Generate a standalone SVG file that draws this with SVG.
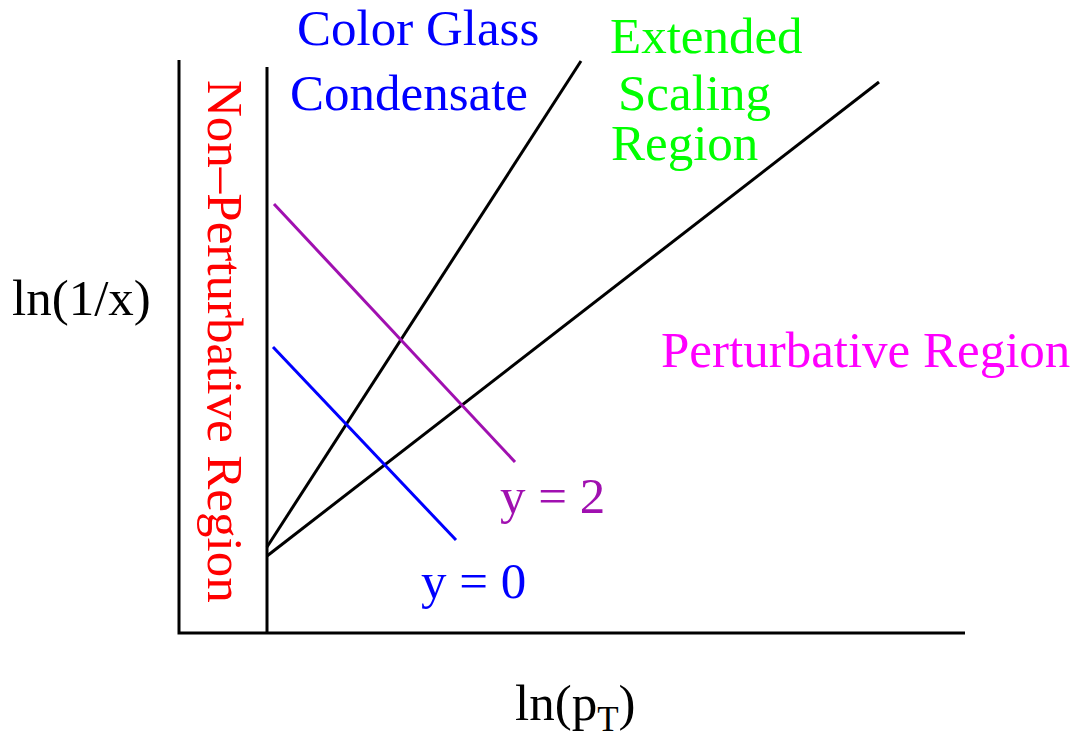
<svg xmlns="http://www.w3.org/2000/svg" width="1074" height="734" viewBox="0 0 1074 734">
<style>
text{font-family:"Liberation Serif","Times New Roman",serif;font-size:51px}
.ax{stroke:#000;stroke-width:3;fill:none}
.ln{stroke-width:3;fill:none}
</style>
<rect width="1074" height="734" fill="#fff"/>
<g id="axes">
<polyline class="ax" points="179,60 179,633 965,633"/>
<line class="ax" x1="267" y1="67" x2="267" y2="633"/>
</g>
<g id="connectors">
<line class="ln" stroke="#000" x1="267" y1="547" x2="581" y2="61"/>
<line class="ln" stroke="#000" x1="267" y1="556" x2="879" y2="82"/>
<line class="ln" stroke="#a010b0" x1="274" y1="204" x2="515" y2="462"/>
<line class="ln" stroke="#0000ff" x1="273" y1="347" x2="456" y2="540"/>
</g>
<g id="cgc"><text fill="#0000ff" x="297" y="45">Color Glass</text><text fill="#0000ff" x="290" y="110">Condensate</text></g>
<g id="esr"><text fill="#00ff00" x="610" y="53">Extended</text><text fill="#00ff00" x="618" y="110">Scaling</text><text fill="#00ff00" x="611" y="160">Region</text></g>
<g id="pert"><text fill="#ff00ff" x="661" y="367">Perturbative Region</text></g>
<g id="nonpert"><text fill="#ff0000" transform="translate(208,80) rotate(90)">Non–Perturbative Region</text></g>
<g id="y2"><text fill="#a010b0" x="500" y="513">y = 2</text></g>
<g id="y0"><text fill="#0000ff" x="421" y="598">y = 0</text></g>
<g id="ylabel"><text fill="#000" x="12" y="315">ln(1/x)</text></g>
<g id="xlabel"><text fill="#000" x="515" y="720">ln(p<tspan font-size="35" dy="11">T</tspan><tspan dy="-11">)</tspan></text></g>
</svg>
